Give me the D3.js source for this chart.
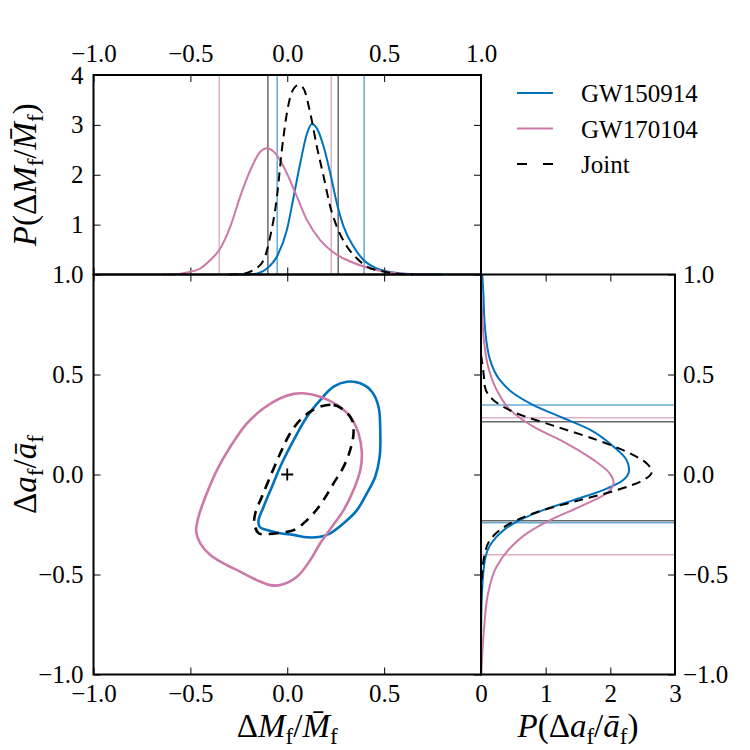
<!DOCTYPE html>
<html>
<head>
<meta charset="utf-8">
<script src="https://cdn.jsdelivr.net/npm/d3@7"></script>
<style>
  body { margin: 0; background: #fff; }
</style>
</head>
<body>
<div id="chart"></div>
<script>
/* ---- data ---- */
const seriesNames = ["GW150914", "GW170104", "Joint"];
const seriesColors = ["#0072bd", "#cc79a7", "#000000"];

// P(dM/M) : [dM/M, density]
const massPdf150914 = [[-0.25,0],[-0.174,0.01],[-0.105,0.12],[-0.053,0.36],[-0.002,0.89],[0.033,1.56],[0.067,2.23],[0.102,2.83],[0.127,3.02],[0.153,2.93],[0.188,2.56],[0.222,2.03],[0.256,1.43],[0.291,0.96],[0.342,0.56],[0.394,0.29],[0.463,0.12],[0.549,0.04],[0.669,0.005],[0.8,0]];
const massPdf170104 = [[-0.65,0],[-0.57,0.005],[-0.518,0.04],[-0.449,0.12],[-0.397,0.29],[-0.351,0.49],[-0.294,0.96],[-0.243,1.56],[-0.191,2.09],[-0.139,2.46],[-0.105,2.53],[-0.053,2.39],[-0.002,2.03],[0.05,1.56],[0.102,1.09],[0.17,0.69],[0.239,0.44],[0.325,0.26],[0.411,0.14],[0.497,0.06],[0.618,0.01],[0.72,0]];
const massPdfJoint = [[-0.3,0],[-0.243,0.005],[-0.174,0.09],[-0.122,0.29],[-0.088,0.76],[-0.053,1.56],[-0.028,2.49],[-0.002,3.23],[0.024,3.66],[0.058,3.8],[0.084,3.73],[0.119,3.23],[0.153,2.56],[0.188,1.96],[0.222,1.36],[0.256,0.96],[0.308,0.56],[0.36,0.32],[0.411,0.16],[0.497,0.06],[0.583,0.01],[0.65,0]];

// P(da/a) : [da/a, density]
const spinPdf150914 = [[-1,0],[-0.76,0.003],[-0.594,0.015],[-0.428,0.06],[-0.344,0.16],[-0.278,0.35],[-0.228,0.6],[-0.178,0.96],[-0.128,1.43],[-0.078,1.89],[-0.028,2.2],[0.023,2.29],[0.073,2.25],[0.139,2.05],[0.223,1.69],[0.289,1.22],[0.347,0.81],[0.406,0.5],[0.473,0.29],[0.573,0.14],[0.739,0.06],[0.906,0.036],[1,0.02]];
const spinPdf170104 = [[-1,0.005],[-0.93,0.015],[-0.76,0.05],[-0.594,0.11],[-0.461,0.24],[-0.378,0.42],[-0.294,0.71],[-0.228,1.07],[-0.161,1.53],[-0.094,1.94],[-0.041,2.05],[0.006,1.99],[0.073,1.74],[0.156,1.32],[0.239,0.81],[0.323,0.45],[0.406,0.27],[0.539,0.11],[0.656,0.05],[0.823,0.015],[1,0]];
const spinPdfJoint = [[-0.6,0],[-0.51,0.015],[-0.394,0.06],[-0.328,0.14],[-0.278,0.29],[-0.228,0.55],[-0.178,0.96],[-0.128,1.53],[-0.078,2.1],[-0.028,2.51],[0.014,2.64],[0.056,2.56],[0.106,2.3],[0.173,1.79],[0.239,1.17],[0.306,0.55],[0.373,0.19],[0.439,0.06],[0.506,0.04],[0.6,0]];

// 90% credible bounds
const massBounds150914 = [-0.052, 0.397];
const massBounds170104 = [-0.351, 0.227];
const massBoundsJoint = [-0.100, 0.263];
const spinBounds150914 = [-0.241, 0.347];
const spinBounds170104 = [-0.401, 0.284];
const spinBoundsJoint = [-0.231, 0.264];

// 2D 90% contours : [dM/M, da/a]
const contour150914 = [[0.308,0.464],[0.377,0.456],[0.437,0.414],[0.471,0.339],[0.48,0.222],[0.477,0.089],[0.454,-0.011],[0.411,-0.094],[0.36,-0.178],[0.291,-0.244],[0.222,-0.294],[0.17,-0.311],[0.102,-0.314],[0.033,-0.302],[-0.036,-0.294],[-0.105,-0.278],[-0.143,-0.261],[-0.148,-0.228],[-0.122,-0.161],[-0.079,-0.061],[-0.028,0.056],[0.033,0.172],[0.102,0.289],[0.17,0.372],[0.239,0.439]];
const contour170104 = [[0.084,0.406],[0.17,0.389],[0.256,0.348],[0.325,0.289],[0.368,0.206],[0.385,0.106],[0.377,0.022],[0.342,-0.078],[0.291,-0.178],[0.231,-0.261],[0.17,-0.344],[0.119,-0.428],[0.05,-0.511],[-0.036,-0.553],[-0.088,-0.553],[-0.157,-0.528],[-0.243,-0.486],[-0.329,-0.444],[-0.397,-0.403],[-0.449,-0.344],[-0.47,-0.286],[-0.458,-0.211],[-0.415,-0.094],[-0.363,0.022],[-0.294,0.139],[-0.208,0.256],[-0.122,0.331],[-0.036,0.381],[0.033,0.403]];
const contourJoint = [[0.17,0.339],[0.239,0.348],[0.291,0.323],[0.334,0.273],[0.342,0.206],[0.325,0.123],[0.291,0.039],[0.239,-0.044],[0.187,-0.128],[0.136,-0.194],[0.084,-0.244],[0.033,-0.278],[-0.036,-0.291],[-0.105,-0.298],[-0.148,-0.294],[-0.17,-0.244],[-0.165,-0.194],[-0.131,-0.111],[-0.088,-0.011],[-0.036,0.106],[0.015,0.206],[0.067,0.273],[0.119,0.314]];

const injection = [0, 0];

const devTicks = [-1, -0.5, 0, 0.5, 1];
const massPdfTicks = [1, 2, 3, 4];
const spinPdfTicks = [0, 1, 2, 3];

/* ---- layout ---- */
const width = 750, height = 750;
const mainBox = {x0: 93.5, x1: 481, y0: 274.5, y1: 674.5};
const topBox = {x0: 93.5, x1: 481, y0: 75, y1: 274.5};
const sideBox = {x0: 481, x1: 675, y0: 274.5, y1: 674.5};
const tickLen = 7;
const fontSize = 25;
const serif = "Liberation Serif";

const svg = d3.select("#chart").append("svg")
    .attr("width", width)
    .attr("height", height)
    .attr("font-family", serif);

const x = d3.scaleLinear().domain([-1, 1]).range([mainBox.x0, mainBox.x1]);
const y = d3.scaleLinear().domain([-1, 1]).range([mainBox.y1, mainBox.y0]);
const topY = d3.scaleLinear().domain([0, 4]).range([topBox.y1, topBox.y0]);
const sideX = d3.scaleLinear().domain([0, 3]).range([sideBox.x0, sideBox.x1]);

const fmt1 = d3.format(".1f");

/* draws one axis with inward ticks, no domain path */
function addAxis(axis, tx, ty, labels) {
    const g = svg.append("g")
        .attr("transform", `translate(${tx},${ty})`)
        .call(axis.tickSizeOuter(0));
    g.select(".domain").remove();
    g.attr("font-family", serif).attr("font-size", fontSize);
    g.selectAll(".tick line").attr("stroke", "#000").attr("stroke-width", 1);
    g.selectAll(".tick text").attr("fill", "#000");
    if (!labels) g.selectAll(".tick text").remove();
    return g;
}

/* ---- top panel : P(dM/M) ---- */
addAxis(d3.axisTop(x).tickValues(devTicks).tickSize(-tickLen).tickPadding(13).tickFormat(fmt1), 0, topBox.y0, true);
addAxis(d3.axisBottom(x).tickValues(devTicks).tickSize(-tickLen), 0, topBox.y1, false);
addAxis(d3.axisLeft(topY).tickValues(massPdfTicks).tickSize(-tickLen).tickPadding(10).tickFormat(d3.format("d")), topBox.x0, 0, true);
addAxis(d3.axisRight(topY).tickValues(massPdfTicks).tickSize(-tickLen), topBox.x1, 0, false);

const massBounds = [massBounds150914, massBounds170104, massBoundsJoint];
massBounds.forEach((b, i) => {
    svg.append("g").selectAll("line").data(b).enter()
        .append("line")
        .attr("x1", d => x(d)).attr("x2", d => x(d))
        .attr("y1", topBox.y0).attr("y2", topBox.y1)
        .attr("stroke", seriesColors[i])
        .attr("stroke-opacity", 0.6)
        .attr("stroke-width", 1.5);
});

const massLine = d3.line()
    .x(d => x(d[0]))
    .y(d => topY(d[1]))
    .curve(d3.curveMonotoneX);
[massPdf150914, massPdf170104, massPdfJoint].forEach((data, i) => {
    svg.append("path")
        .datum(data)
        .attr("d", massLine)
        .attr("fill", "none")
        .attr("stroke", seriesColors[i])
        .attr("stroke-width", 2)
        .attr("stroke-dasharray", i === 2 ? "9,6" : null);
});

/* ---- main panel : contours ---- */
addAxis(d3.axisBottom(x).tickValues(devTicks.slice(0, 4)).tickSize(-tickLen).tickPadding(10).tickFormat(fmt1), 0, mainBox.y1, true);
addAxis(d3.axisTop(x).tickValues(devTicks).tickSize(-tickLen), 0, mainBox.y0, false);
addAxis(d3.axisLeft(y).tickValues(devTicks).tickSize(-tickLen).tickPadding(10).tickFormat(fmt1), mainBox.x0, 0, true);
addAxis(d3.axisRight(y).tickValues(devTicks).tickSize(-tickLen), mainBox.x1, 0, false);

const contourLine = d3.line()
    .x(d => x(d[0]))
    .y(d => y(d[1]))
    .curve(d3.curveCatmullRomClosed);
[contour150914, contour170104, contourJoint].forEach((data, i) => {
    svg.append("path")
        .datum(data)
        .attr("d", contourLine)
        .attr("fill", "none")
        .attr("stroke", seriesColors[i])
        .attr("stroke-width", 2.6)
        .attr("stroke-dasharray", i === 2 ? "10,7" : null);
});

// injected value marker
svg.append("path")
    .attr("d", `M${x(injection[0]) - 6},${y(injection[1])}h12M${x(injection[0])},${y(injection[1]) - 6}v12`)
    .attr("stroke", "#000")
    .attr("stroke-width", 1.8);

/* ---- side panel : P(da/a) ---- */
addAxis(d3.axisBottom(sideX).tickValues(spinPdfTicks).tickSize(-tickLen).tickPadding(10).tickFormat(d3.format("d")), 0, sideBox.y1, true);
addAxis(d3.axisTop(sideX).tickValues(spinPdfTicks).tickSize(-tickLen), 0, sideBox.y0, false);
addAxis(d3.axisRight(y).tickValues(devTicks).tickSize(-tickLen).tickPadding(8).tickFormat(fmt1), sideBox.x1, 0, true);

const spinBounds = [spinBounds150914, spinBounds170104, spinBoundsJoint];
spinBounds.forEach((b, i) => {
    svg.append("g").selectAll("line").data(b).enter()
        .append("line")
        .attr("y1", d => y(d)).attr("y2", d => y(d))
        .attr("x1", sideBox.x0).attr("x2", sideBox.x1)
        .attr("stroke", seriesColors[i])
        .attr("stroke-opacity", 0.6)
        .attr("stroke-width", 1.5);
});

const spinLine = d3.line()
    .x(d => sideX(d[1]))
    .y(d => y(d[0]))
    .curve(d3.curveMonotoneY);
[spinPdf150914, spinPdf170104, spinPdfJoint].forEach((data, i) => {
    svg.append("path")
        .datum(data)
        .attr("d", spinLine)
        .attr("fill", "none")
        .attr("stroke", seriesColors[i])
        .attr("stroke-width", 2)
        .attr("stroke-dasharray", i === 2 ? "9,6" : null);
});

/* ---- frames ---- */
[topBox, mainBox, sideBox].forEach(b => {
    svg.append("rect")
        .attr("x", b.x0).attr("y", b.y0)
        .attr("width", b.x1 - b.x0).attr("height", b.y1 - b.y0)
        .attr("fill", "none")
        .attr("stroke", "#000")
        .attr("stroke-width", 2);
});

/* ---- axis labels (math style) ---- */
function mathLabel(parts, tx, ty, rotate, size) {
    const t = svg.append("text")
        .attr("transform", `translate(${tx},${ty}) rotate(${rotate})`)
        .attr("text-anchor", "middle")
        .attr("font-size", size);
    let shifted = 0;
    parts.forEach(p => {
        const s = t.append("tspan").text(p.t);
        if (p.i) s.attr("font-style", "italic");
        if (p.sub) {
            s.attr("font-size", size * 0.7).attr("dy", 7 - shifted);
            shifted = 7;
        } else if (shifted) {
            s.attr("dy", -shifted);
            shifted = 0;
        }
    });
    return t;
}

const labelSize = 33;
mathLabel([{t: "P", i: true}, {t: "(Δ"}, {t: "M", i: true}, {t: "f", sub: true}, {t: "/"}, {t: "M\u0304", i: true}, {t: "f", sub: true}, {t: ")"}],
    36, (topBox.y0 + topBox.y1) / 2, -90, labelSize);
mathLabel([{t: "Δ"}, {t: "a", i: true}, {t: "f", sub: true}, {t: "/"}, {t: "\u0101", i: true}, {t: "f", sub: true}],
    36, (mainBox.y0 + mainBox.y1) / 2, -90, labelSize);
mathLabel([{t: "Δ"}, {t: "M", i: true}, {t: "f", sub: true}, {t: "/"}, {t: "M\u0304", i: true}, {t: "f", sub: true}],
    (mainBox.x0 + mainBox.x1) / 2, 737, 0, labelSize);
mathLabel([{t: "P", i: true}, {t: "(Δ"}, {t: "a", i: true}, {t: "f", sub: true}, {t: "/"}, {t: "\u0101", i: true}, {t: "f", sub: true}, {t: ")"}],
    (sideBox.x0 + sideBox.x1) / 2, 737, 0, labelSize);

/* ---- legend ---- */
const legend = svg.append("g").attr("transform", "translate(517,93)");
seriesNames.forEach((name, i) => {
    const row = legend.append("g").attr("transform", `translate(0,${i * 35.5})`);
    row.append("line")
        .attr("x1", 0).attr("x2", 36)
        .attr("stroke", seriesColors[i])
        .attr("stroke-width", 2)
        .attr("stroke-dasharray", i === 2 ? "10,16" : null);
    row.append("text")
        .attr("x", 64).attr("y", 9)
        .attr("font-size", fontSize)
        .text(name);
});
</script>
</body>
</html>
